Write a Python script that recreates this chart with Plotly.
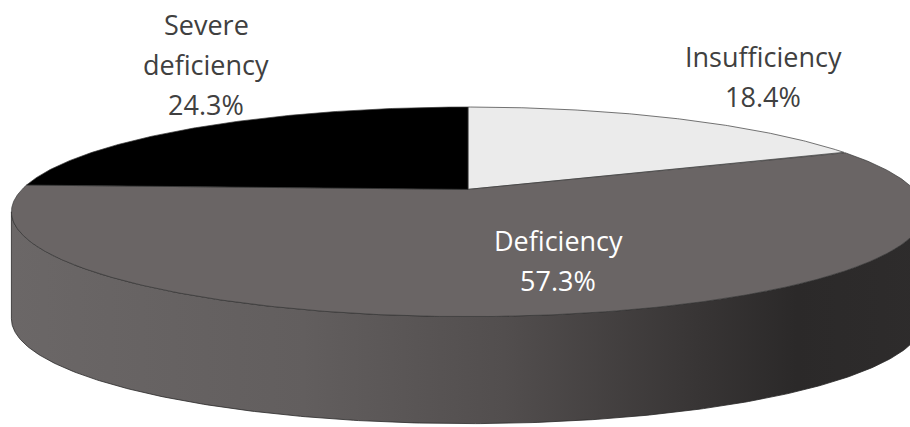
import numpy as np
import plotly.graph_objects as go

# ---- data ----
categories = ["Insufficiency", "Deficiency", "Severe deficiency"]
values = [18.4, 57.3, 24.3]
name_lines = [["Insufficiency"], ["Deficiency"], ["Severe", "deficiency"]]

# ---- style ----
slice_colors = ["#ebebeb", "#6a6565", "#000000"]
text_colors = ["#404040", "#ffffff", "#404040"]
W, HGT = 910, 427
CX, CY, A, B, K, DEPTH = 468, 189.4, 446, 100, 0.214, 107
FONT = "Open Sans"
FSIZE = 27
LINE_GAP = 40
# label centre (x, y of first line) for each category
label_pos = [(763, 56), (558, 240), (206, 24)]


def proj(theta_deg, drop=0.0):
    t = np.radians(theta_deg)
    X, Z = np.sin(t), np.cos(t)
    s = 1.0 / (1.0 + K * Z)
    return CX + A * X * s, CY - B * Z * s + drop


fig = go.Figure()

# side wall (front, visible half) with horizontal gradient
t_r = np.degrees(np.arccos(-K))
t_l = 360 - t_r
th = np.linspace(t_r, t_l, 300)
xt, yt = proj(th)
xb, yb = proj(th[::-1], DEPTH)
wx = np.concatenate([xt, xb, xt[:1]])
wy = np.concatenate([yt, yb, yt[:1]])
fig.add_trace(go.Scatter(
    x=wx, y=wy, mode="lines", fill="toself",
    line=dict(color="#2a2828", width=0.8),
    fillgradient=dict(type="horizontal", colorscale=[
        [0.0, "#6b6767"], [0.32, "#625e5e"], [0.54, "#524e4e"],
        [0.75, "#383535"], [0.86, "#2b2929"], [1.0, "#2e2c2c"]]),
    hoverinfo="skip", showlegend=False))

# top face slices, clockwise from 12 o'clock
total = sum(values)
start = 0.0
for cat, v, col in zip(categories, values, slice_colors):
    end = start + 360.0 * v / total
    a = np.linspace(start, end, max(int(end - start) * 3, 10))
    ax_, ay_ = proj(a)
    px = np.concatenate([[CX], ax_, [CX]])
    py = np.concatenate([[CY], ay_, [CY]])
    fig.add_trace(go.Scatter(
        x=px, y=py, mode="lines", fill="toself", fillcolor=col,
        line=dict(color="#3a3a3a", width=0.7),
        name=cat, hoverinfo="skip", showlegend=False))
    start = end

# labels
annotations = []
for lines, v, tc, (lx, ly) in zip(name_lines, values, text_colors, label_pos):
    all_lines = lines + [f"{v:.1f}%"]
    for i, ln in enumerate(all_lines):
        annotations.append(dict(
            x=lx, y=ly + i * LINE_GAP, xref="x", yref="y", text=ln,
            showarrow=False, xanchor="center", yanchor="middle",
            font=dict(family=FONT, size=FSIZE, color=tc)))

fig.update_layout(
    width=W, height=HGT,
    margin=dict(l=0, r=0, t=0, b=0),
    paper_bgcolor="white", plot_bgcolor="white",
    xaxis=dict(range=[0, W], visible=False, fixedrange=True),
    yaxis=dict(range=[HGT, 0], visible=False, fixedrange=True),
    annotations=annotations,
)

fig.write_html("out.html")
